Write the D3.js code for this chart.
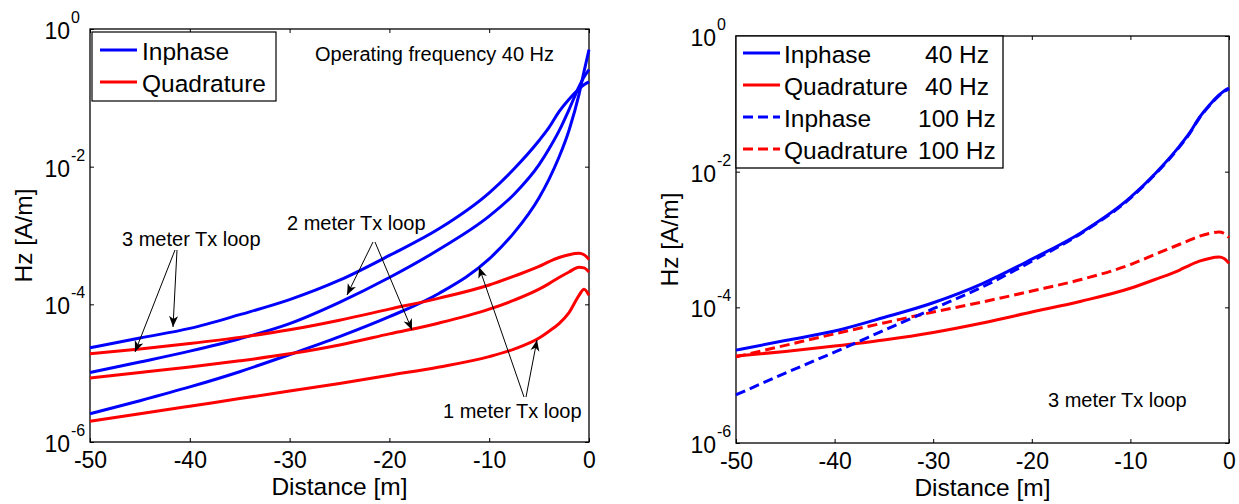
<!DOCTYPE html>
<html><head><meta charset="utf-8">
<script src="https://cdn.jsdelivr.net/npm/d3@7"></script>
<style>
body{margin:0;background:#fff}
svg{display:block;font-family:"Liberation Sans",Arial,sans-serif}
</style></head><body>
<svg id="chart" width="1239" height="504"></svg>
<script>
// ---- data (Hz [A/m] vs distance [m]) ----
const distance = [-50,-45,-40,-35,-30,-25,-20,-15,-10,-7.5,-5,-4,-3,-2,-1,-0.5,0];
const inphase3m = [2.34e-5,3.24e-5,4.47e-5,7.08e-5,1.17e-4,2.24e-4,5.13e-4,1.26e-3,4.17e-3,9.33e-3,2.40e-2,3.72e-2,6.31e-2,9.55e-2,0.135,0.155,0.170];
const inphase2m = [1.02e-5,1.45e-5,2.09e-5,3.16e-5,5.25e-5,1.07e-4,2.45e-4,6.31e-4,1.91e-3,3.98e-3,1.07e-2,1.82e-2,3.31e-2,6.76e-2,0.145,0.200,0.257];
const inphase1m = [2.57e-6,3.98e-6,6.31e-6,1.05e-5,1.86e-5,3.39e-5,6.61e-5,1.45e-4,4.57e-4,1.10e-3,3.55e-3,6.61e-3,1.38e-2,3.39e-2,0.112,0.240,0.501];
const quad3m = [1.91e-5,2.24e-5,2.69e-5,3.31e-5,4.27e-5,5.89e-5,8.51e-5,1.23e-4,1.91e-4,2.57e-4,3.55e-4,4.17e-4,4.79e-4,5.25e-4,5.50e-4,5.25e-4,4.47e-4];
const quad2m = [8.51e-6,1.02e-5,1.23e-5,1.51e-5,1.91e-5,2.57e-5,3.72e-5,5.37e-5,8.51e-5,1.15e-4,1.66e-4,2.00e-4,2.45e-4,2.95e-4,3.47e-4,3.39e-4,2.95e-4];
const quad1m = [2.00e-6,2.57e-6,3.31e-6,4.27e-6,5.50e-6,7.08e-6,9.33e-6,1.23e-5,1.74e-5,2.24e-5,3.24e-5,4.07e-5,5.25e-5,7.59e-5,1.35e-4,1.66e-4,1.35e-4];
const inphase3m100 = [5.13e-6,1.07e-5,2.19e-5,4.57e-5,9.55e-5,2.00e-4,4.79e-4,1.23e-3,4.07e-3,9.12e-3,2.34e-2,3.63e-2,6.17e-2,9.33e-2,0.132,0.151,0.166];
const quad3m100 = [1.86e-5,2.75e-5,4.07e-5,5.89e-5,8.51e-5,1.20e-4,1.74e-4,2.57e-4,4.27e-4,6.03e-4,8.51e-4,9.77e-4,1.12e-3,1.23e-3,1.29e-3,1.23e-3,1.07e-3];

const xTicks = [-50,-40,-30,-20,-10,0];
const yTicks = [1e-6,1e-4,1e-2,1];
const yTickSup = ["-6","-4","-2","0"];
const legendLeft = ["Inphase","Quadrature"];
const legendRightName = ["Inphase","Quadrature","Inphase","Quadrature"];
const legendRightFreq = ["40 Hz","40 Hz","100 Hz","100 Hz"];

const BLUE = "#0000ff", RED = "#ff0000", FONT = "Liberation Sans, Arial, sans-serif";
const svg = d3.select("#chart");
svg.append("rect").attr("width",1239).attr("height",504).attr("fill","#fff");

svg.append("defs").append("marker").attr("id","arr")
  .attr("markerUnits","userSpaceOnUse").attr("markerWidth",14).attr("markerHeight",12)
  .attr("viewBox","-12 -6 14 12").attr("refX",0).attr("refY",0).attr("orient","auto")
  .append("path").attr("d","M0,0 L-11,-4.5 L-8,0 L-11,4.5 Z").attr("fill","#000");

function panel(box, series){
  const x = d3.scaleLinear().domain([-50,0]).range([box.x0, box.x1]);
  const y = d3.scaleLog().domain([1e-6,1]).range([box.y1, box.y0]);
  const g = svg.append("g");
  const noLab = () => "";
  const style = a => { a.select(".domain").remove(); a.attr("font-family",FONT).attr("font-size",23);
    a.selectAll(".tick line").attr("stroke","#000"); a.selectAll("text").attr("fill","#000"); };
  g.append("g").attr("transform",`translate(0,${box.y1})`)
    .call(d3.axisBottom(x).tickValues(xTicks).tickSizeInner(-4).tickSizeOuter(0).tickPadding(10).tickFormat(d => String(d))).call(style);
  g.append("g").attr("transform",`translate(0,${box.y0})`)
    .call(d3.axisTop(x).tickValues(xTicks).tickSizeInner(-4).tickSizeOuter(0).tickFormat(noLab)).call(style);
  g.append("g").attr("transform",`translate(${box.x0},0)`)
    .call(d3.axisLeft(y).tickValues(yTicks).tickSizeInner(-4).tickSizeOuter(0).tickFormat(noLab)).call(style);
  g.append("g").attr("transform",`translate(${box.x1},0)`)
    .call(d3.axisRight(y).tickValues(yTicks).tickSizeInner(-4).tickSizeOuter(0).tickFormat(noLab)).call(style);
  g.append("rect").attr("x",box.x0).attr("y",box.y0).attr("width",box.x1-box.x0).attr("height",box.y1-box.y0)
    .attr("fill","none").attr("stroke","#000").attr("stroke-width",1.3);
  yTicks.forEach((v,i) => {
    g.append("text").attr("x",box.x0-20).attr("y",y(v)+10).attr("text-anchor","end").attr("font-size",23).text("10");
    g.append("text").attr("x",box.x0-19).attr("y",y(v)-6).attr("font-size",16).text(yTickSup[i]);
  });
  g.append("text").attr("transform",`translate(${box.x0-58},${(box.y0+box.y1)/2}) rotate(-90)`)
    .attr("text-anchor","middle").attr("font-size",24.5).text("Hz [A/m]");
  g.append("text").attr("x",(box.x0+box.x1)/2).attr("y",box.y1+53)
    .attr("text-anchor","middle").attr("font-size",24.5).text("Distance [m]");
  const line = d3.line().x((d,i) => x(distance[i])).y(d => y(d)).curve(d3.curveMonotoneX);
  series.forEach(s => {
    g.append("path").attr("d",line(s.values)).attr("fill","none").attr("stroke",s.color)
      .attr("stroke-width",3).attr("stroke-dasharray",s.dash || null);
  });
  return g;
}

const L = {x0:90,x1:589,y0:29,y1:442};
const R = {x0:736,x1:1229,y0:36,y1:443};
const gl = panel(L, [
  {values:inphase3m,color:BLUE},{values:inphase2m,color:BLUE},{values:inphase1m,color:BLUE},
  {values:quad3m,color:RED},{values:quad2m,color:RED},{values:quad1m,color:RED}
]);
const gr = panel(R, [
  {values:quad3m,color:RED},{values:quad3m100,color:RED,dash:"10,5"},
  {values:inphase3m,color:BLUE},{values:inphase3m100,color:BLUE,dash:"10,5"}
]);

// left legend
gl.append("rect").attr("x",92).attr("y",32).attr("width",184).attr("height",69).attr("fill","#fff").attr("stroke","#000").attr("stroke-width",1.2);
legendLeft.forEach((t,i) => {
  const yy = 50 + i*32;
  gl.append("line").attr("x1",100).attr("x2",137).attr("y1",yy).attr("y2",yy).attr("stroke",i?RED:BLUE).attr("stroke-width",3);
  gl.append("text").attr("x",142).attr("y",yy+10).attr("font-size",24.5).text(t);
});
// right legend
gr.append("rect").attr("x",736).attr("y",36).attr("width",267).attr("height",132).attr("fill","#fff").attr("stroke","#000").attr("stroke-width",1.3);
legendRightName.forEach((t,i) => {
  const yy = 53 + i*32;
  gr.append("line").attr("x1",743).attr("x2",780).attr("y1",yy).attr("y2",yy).attr("stroke",i%2?RED:BLUE)
    .attr("stroke-width",3).attr("stroke-dasharray",i>1?"10,5":null);
  gr.append("text").attr("x",784).attr("y",yy+10).attr("font-size",24.5).text(t);
  gr.append("text").attr("x",i>1?918:925).attr("y",yy+10).attr("font-size",24.5).text(legendRightFreq[i]);
});

// annotations
const ann = (g,x,y,t) => g.append("text").attr("x",x).attr("y",y).attr("font-size",20).text(t);
ann(gl,315,61,"Operating frequency 40 Hz");
ann(gl,122,246,"3 meter Tx loop");
ann(gl,287,230,"2 meter Tx loop");
ann(gl,443,418,"1 meter Tx loop");
ann(gr,1048,407,"3 meter Tx loop");
const arrow = (x1,y1,x2,y2) => gl.append("line").attr("x1",x1).attr("y1",y1).attr("x2",x2).attr("y2",y2)
  .attr("stroke","#000").attr("stroke-width",1).attr("marker-end","url(#arr)");
arrow(175,250,135,352); arrow(177,250,173,327);
arrow(373,242,347,295); arrow(375,242,412,330);
arrow(524,397,479,267); arrow(526,397,537,340);
</script>
</body></html>
